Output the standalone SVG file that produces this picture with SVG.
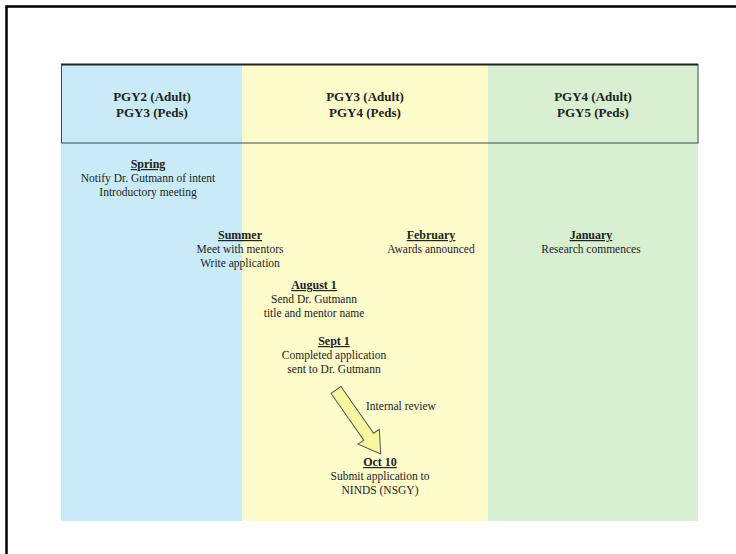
<svg xmlns="http://www.w3.org/2000/svg" width="736" height="554" viewBox="0 0 736 554" font-family="'Liberation Serif', 'Times New Roman', serif">
<style>
text{font-family:'Liberation Serif','Times New Roman',serif;fill:#222;text-anchor:middle}
.h{font-size:13px;font-weight:bold}
.t{font-size:12px;font-weight:bold;text-decoration:underline}
.b{font-size:11.5px}
</style>
<rect x="0" y="0" width="736" height="554" fill="#fff"/>
<path d="M6.5 554 V6.5 H736" fill="none" stroke="#000" stroke-width="2.5"/>
<g id="columns">
<rect x="61" y="64" width="181" height="457" fill="#C9EBF8"/>
<rect x="242" y="64" width="246" height="457" fill="#FFFCCC"/>
<rect x="488" y="64" width="210" height="457" fill="#D9EFD2"/>
</g>
<g id="header">
<rect x="61.5" y="64.5" width="636.5" height="78.5" fill="none" stroke="#3a4a4a" stroke-width="1"/>
<line x1="61" y1="64.5" x2="698" y2="64.5" stroke="#222" stroke-width="1.8"/>
<text class="h" x="152" y="101">PGY2 (Adult)</text>
<text class="h" x="152" y="117">PGY3 (Peds)</text>
<text class="h" x="365" y="101">PGY3 (Adult)</text>
<text class="h" x="365" y="117">PGY4 (Peds)</text>
<text class="h" x="593" y="101">PGY4 (Adult)</text>
<text class="h" x="593" y="117">PGY5 (Peds)</text>
</g>
<g id="spring">
<text class="t" x="148" y="168">Spring</text>
<text class="b" x="148" y="182">Notify Dr. Gutmann of intent</text>
<text class="b" x="148" y="196">Introductory meeting</text>
</g>
<g id="summer">
<text class="t" x="240" y="239">Summer</text>
<text class="b" x="240" y="253">Meet with mentors</text>
<text class="b" x="240" y="267">Write application</text>
</g>
<g id="february">
<text class="t" x="431" y="239">February</text>
<text class="b" x="431" y="253">Awards announced</text>
</g>
<g id="january">
<text class="t" x="591" y="239">January</text>
<text class="b" x="591" y="253">Research commences</text>
</g>
<g id="august1">
<text class="t" x="314" y="289">August 1</text>
<text class="b" x="314" y="303">Send Dr. Gutmann</text>
<text class="b" x="314" y="317">title and mentor name</text>
</g>
<g id="sept1">
<text class="t" x="334" y="345">Sept 1</text>
<text class="b" x="334" y="359">Completed application</text>
<text class="b" x="334" y="373">sent to Dr. Gutmann</text>
</g>
<g id="connectors">
<g transform="translate(336,390) rotate(55)">
<path d="M0 -6 H57 V-13 L78 0 L57 13 V6 H0 Z" fill="#F6F6A0" stroke="#555" stroke-width="1"/>
</g>
<text class="b" x="366" y="410" style="text-anchor:start">Internal review</text>
</g>
<g id="oct10">
<text class="t" x="380" y="466">Oct 10</text>
<text class="b" x="380" y="480">Submit application to</text>
<text class="b" x="380" y="494">NINDS (NSGY)</text>
</g>
</svg>
